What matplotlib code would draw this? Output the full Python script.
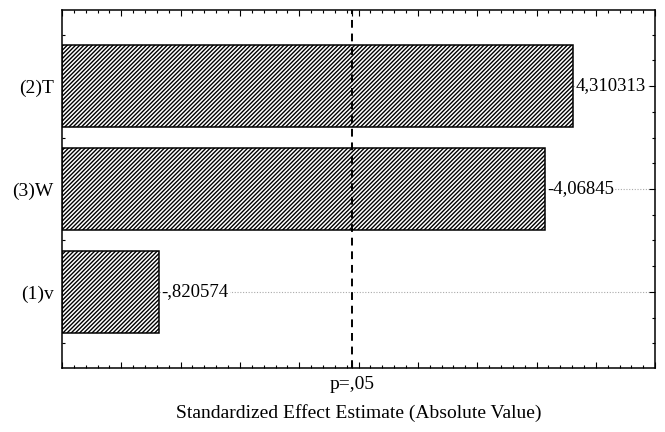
import matplotlib
matplotlib.use("Agg")
import matplotlib.pyplot as plt
from matplotlib.ticker import MultipleLocator, FixedLocator, NullFormatter

plt.rcParams['font.family'] = ['Liberation Serif', 'DejaVu Serif']
plt.rcParams['hatch.linewidth'] = 1.0

# effects, bottom to top
effects = ['(1)v', '(3)W', '(2)T']
estimates = [-0.820574, -4.06845, 4.310313]
t_crit = 2.447          # p = .05
xmax = 5.0


def fmt(v):
    s = '%.7g' % v
    s = s.replace('.', ',')
    if s.startswith('0,'):
        s = s[1:]
    elif s.startswith('-0,'):
        s = '-' + s[2:]
    return s


fig = plt.figure(figsize=(6.65, 4.32), dpi=100)
ax = fig.add_axes([0.0932, 0.148, 0.892, 0.829])

ypos = list(range(len(effects)))
sizes = [abs(v) for v in estimates]

# dotted guide lines at every effect
for y in ypos:
    ax.axhline(y, color='#aaaaaa', lw=0.8, ls=(0, (1, 1.5)), zorder=1)

ax.barh(ypos, sizes, height=0.8, color='white', edgecolor='black',
        hatch='////////', linewidth=1.1, zorder=2)

for y, v, s in zip(ypos, estimates, sizes):
    ax.text(s + 0.02, y, fmt(v), ha='left', va='center', fontsize=13.5,
            zorder=3, bbox=dict(facecolor='white', edgecolor='none', pad=0.5))

ax.axvline(t_crit, color='black', lw=1.4, ls=(0, (4, 3)), zorder=4)

ax.set_xlim(0, xmax)
ax.set_ylim(-0.74, len(effects) - 1 + 0.74)

# x ticks: small marks only, one labelled at the significance line
xt = [i * 0.5 for i in range(11)] + [t_crit]
ax.xaxis.set_major_locator(FixedLocator(xt))
ax.set_xticklabels([''] * 11 + ['p=,05'])
ax.xaxis.set_minor_locator(MultipleLocator(0.1))

ax.set_yticks(ypos)
ax.set_yticklabels(effects)
ax.yaxis.set_minor_locator(MultipleLocator(0.25))
ax.yaxis.set_minor_formatter(NullFormatter())

ax.tick_params(which='both', direction='in', top=True, right=True,
               labelsize=14, width=0.8)
ax.tick_params(which='major', length=4)
ax.tick_params(which='minor', length=2.5)
ax.tick_params(axis='x', pad=6)
ax.tick_params(axis='y', pad=6)

for sp in ax.spines.values():
    sp.set_linewidth(1.1)

ax.set_xlabel('Standardized Effect Estimate (Absolute Value)', fontsize=14,
              labelpad=8)

fig.savefig('out.png', dpi=100)
